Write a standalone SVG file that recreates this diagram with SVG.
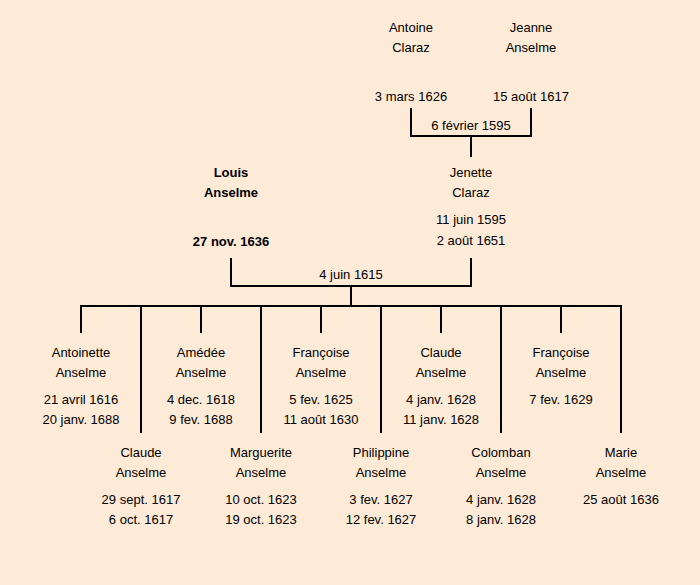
<svg xmlns="http://www.w3.org/2000/svg" width="700" height="585" viewBox="0 0 700 585">
<style>
text{font-family:"Comic Sans MS","Liberation Sans",sans-serif;font-size:13px;fill:#000;text-anchor:middle}
.b{font-weight:bold}
.c{stroke:#000;stroke-width:2;fill:none}
</style>
<rect width="700" height="585" fill="#FDEBD8"/>
<g id="connectors">
<path class="c" d="M411,108V136H531V108M471,136V157"/>
<path class="c" d="M231,258V286H471V258M351,286V306"/>
<path class="c" d="M81,333V306H621V433M201,306V333M321,306V333M441,306V333M561,306V333M141,306V433M261,306V433M381,306V433M501,306V433"/>
</g>
<g id="antoine"><text x="411" y="32">Antoine</text><text x="411" y="52">Claraz</text><text x="411" y="101">3 mars 1626</text></g>
<g id="jeanne"><text x="531" y="32">Jeanne</text><text x="531" y="52">Anselme</text><text x="531" y="101">15 août 1617</text></g>
<g id="m1"><text x="471" y="130">6 février 1595</text></g>
<g id="louis"><text class="b" x="231" y="177">Louis</text><text class="b" x="231" y="197">Anselme</text><text class="b" x="231" y="246">27 nov. 1636</text></g>
<g id="jenette"><text x="471" y="177">Jenette</text><text x="471" y="197">Claraz</text><text x="471" y="224">11 juin 1595</text><text x="471" y="245">2 août 1651</text></g>
<g id="m2"><text x="351" y="279">4 juin 1615</text></g>
<g id="antoinette"><text x="81" y="357">Antoinette</text><text x="81" y="377">Anselme</text><text x="81" y="404">21 avril 1616</text><text x="81" y="424">20 janv. 1688</text></g>
<g id="amedee"><text x="201" y="357">Amédée</text><text x="201" y="377">Anselme</text><text x="201" y="404">4 dec. 1618</text><text x="201" y="424">9 fev. 1688</text></g>
<g id="francoise1"><text x="321" y="357">Françoise</text><text x="321" y="377">Anselme</text><text x="321" y="404">5 fev. 1625</text><text x="321" y="424">11 août 1630</text></g>
<g id="claude2"><text x="441" y="357">Claude</text><text x="441" y="377">Anselme</text><text x="441" y="404">4 janv. 1628</text><text x="441" y="424">11 janv. 1628</text></g>
<g id="francoise2"><text x="561" y="357">Françoise</text><text x="561" y="377">Anselme</text><text x="561" y="404">7 fev. 1629</text></g>
<g id="claude1"><text x="141" y="457">Claude</text><text x="141" y="477">Anselme</text><text x="141" y="504">29 sept. 1617</text><text x="141" y="524">6 oct. 1617</text></g>
<g id="marguerite"><text x="261" y="457">Marguerite</text><text x="261" y="477">Anselme</text><text x="261" y="504">10 oct. 1623</text><text x="261" y="524">19 oct. 1623</text></g>
<g id="philippine"><text x="381" y="457">Philippine</text><text x="381" y="477">Anselme</text><text x="381" y="504">3 fev. 1627</text><text x="381" y="524">12 fev. 1627</text></g>
<g id="colomban"><text x="501" y="457">Colomban</text><text x="501" y="477">Anselme</text><text x="501" y="504">4 janv. 1628</text><text x="501" y="524">8 janv. 1628</text></g>
<g id="marie"><text x="621" y="457">Marie</text><text x="621" y="477">Anselme</text><text x="621" y="504">25 août 1636</text></g>
</svg>
